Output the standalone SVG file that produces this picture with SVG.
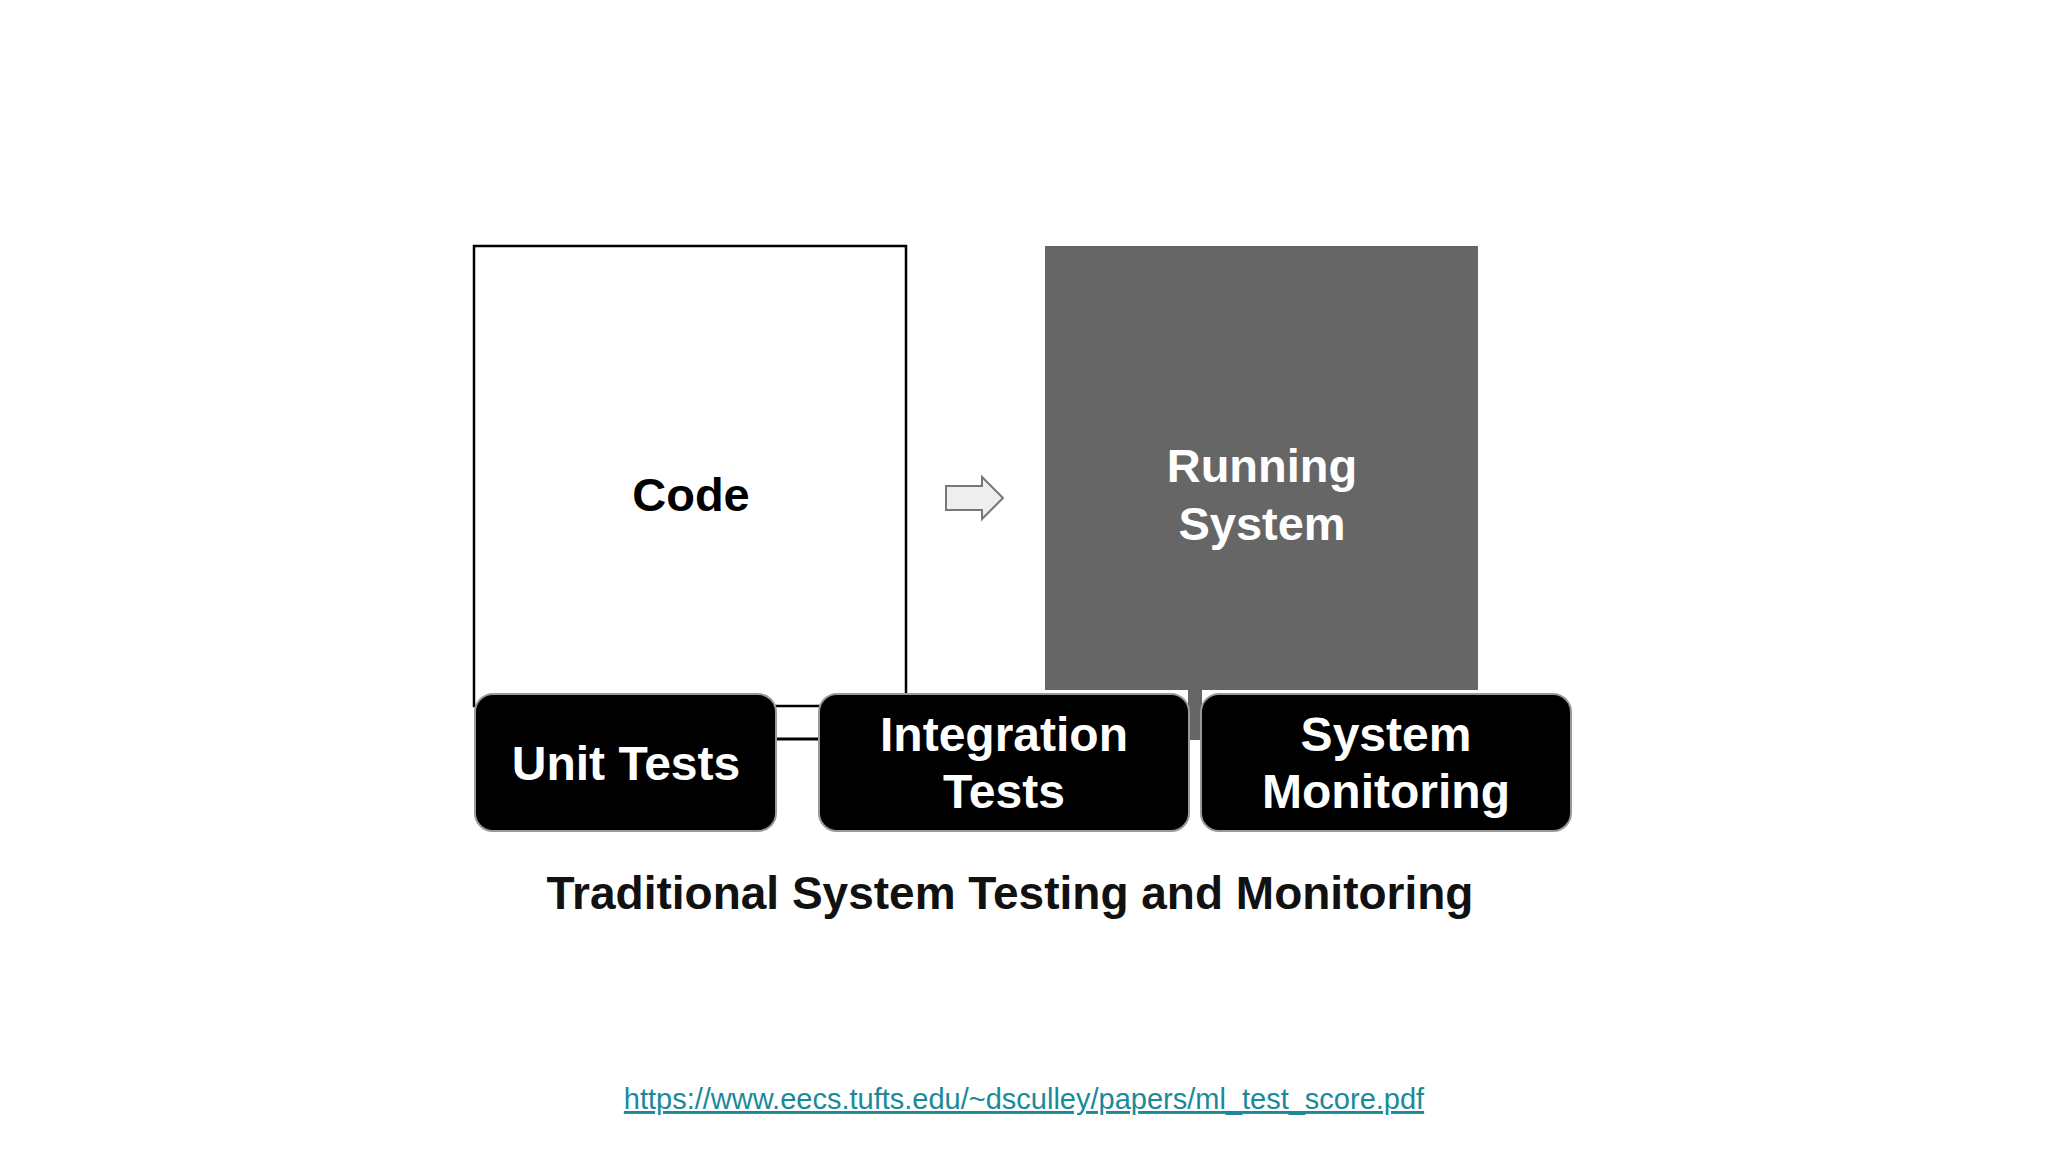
<svg xmlns="http://www.w3.org/2000/svg" width="2048" height="1152" viewBox="0 0 2048 1152">
<style>
text{font-family:"Liberation Sans",Arial,sans-serif;font-weight:bold;text-anchor:middle}
.pill{fill:#000;stroke:#999;stroke-width:2}
.w{fill:#fff;font-size:48px}
</style>
<rect width="2048" height="1152" fill="#fff"/>
<g id="connectors">
<line x1="776" y1="739" x2="820" y2="739" stroke="#000" stroke-width="3"/>
<path d="M946 486 H982 V477 L1003 498 L982 519 V510 H946 Z" fill="#eee" stroke="#777" stroke-width="2"/>
</g>
<g id="code"><rect x="474" y="246" width="432" height="460" fill="#fff" stroke="#000" stroke-width="2.5"/>
<text x="691" y="511" font-size="47">Code</text></g>
<g id="running"><rect x="1045" y="246" width="433" height="444" fill="#666"/>
<rect x="1188" y="690" width="14" height="50" fill="#666"/>
<text x="1262" y="482" font-size="47" fill="#fff">Running</text>
<text x="1262" y="540" font-size="47" fill="#fff">System</text></g>
<g id="unit"><rect class="pill" x="475" y="694" width="301" height="137" rx="18"/>
<text class="w" x="626" y="780">Unit Tests</text></g>
<g id="integration"><rect class="pill" x="819" y="694" width="370" height="137" rx="18"/>
<text class="w" x="1004" y="751">Integration</text><text class="w" x="1004" y="808">Tests</text></g>
<g id="monitoring"><rect class="pill" x="1201" y="694" width="370" height="137" rx="18"/>
<text class="w" x="1386" y="751">System</text><text class="w" x="1386" y="808">Monitoring</text></g>
<text x="1010" y="909" font-size="46" fill="#111">Traditional System Testing and Monitoring</text>
<text x="1024" y="1109" font-size="29" font-weight="normal" fill="#1a8a9a" text-decoration="underline" style="font-weight:normal">https://www.eecs.tufts.edu/~dsculley/papers/ml_test_score.pdf</text>
</svg>
